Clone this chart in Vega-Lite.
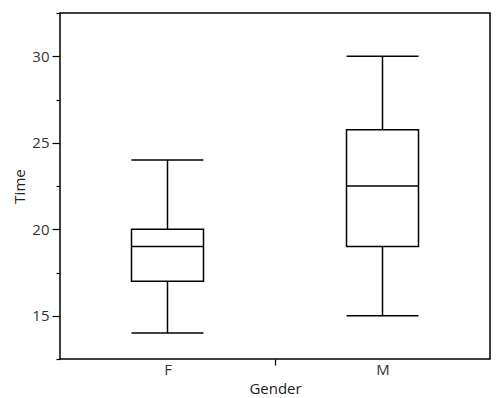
{
  "$schema": "https://vega.github.io/schema/vega-lite/v6.json",
  "width": 430,
  "height": 346,
  "autosize": {"type": "none"},
  "padding": {"left": 60, "top": 13, "right": 14, "bottom": 39},
  "background": "white",
  "config": {
    "view": {"stroke": "#000", "strokeWidth": 1.5},
    "font": "Open Sans",
    "axis": {
      "domain": false,
      "grid": false,
      "tickColor": "#000",
      "tickWidth": 1.2,
      "labelFont": "Open Sans",
      "labelFontSize": 15,
      "labelColor": "#333",
      "titleFont": "Open Sans",
      "titleFontSize": 15,
      "titleFontWeight": "normal",
      "titleColor": "#222"
    }
  },
  "data": {
    "values": [
      {"Gender": "F", "min": 14, "q1": 17, "median": 19, "q3": 20, "max": 24},
      {"Gender": "M", "min": 15, "q1": 19, "median": 22.5, "q3": 25.75, "max": 30}
    ]
  },
  "encoding": {
    "x": {
      "field": "Gender",
      "type": "nominal",
      "scale": {"type": "band", "paddingInner": 0, "paddingOuter": 0},
      "axis": {
        "labelAngle": 0,
        "tickBand": "extent",
        "tickSize": 6,
        "tickOpacity": {"condition": {"test": "datum.value === 'F'", "value": 1}, "value": 0},
        "labelPadding": -3,
        "titlePadding": 4
      }
    }
  },
  "layer": [
    {
      "mark": {"type": "rule", "color": "#000", "strokeWidth": 1.5},
      "encoding": {
        "y": {
          "field": "min",
          "type": "quantitative",
          "title": "Time",
          "scale": {"domain": [12.5, 32.5], "nice": false, "zero": false},
          "axis": {
            "values": [12.5, 15, 17.5, 20, 22.5, 25, 27.5, 30, 32.5],
            "labelExpr": "datum.value % 5 === 0 ? datum.label : ''",
            "tickSize": {"condition": {"test": "datum.value % 5 === 0", "value": 8}, "value": 4},
            "labelPadding": 3,
            "titlePadding": 4
          }
        },
        "y2": {"field": "max"}
      }
    },
    {
      "mark": {"type": "bar", "fill": "white", "stroke": "#000", "strokeWidth": 1.5, "size": 72},
      "encoding": {
        "y": {"field": "q1", "type": "quantitative"},
        "y2": {"field": "q3"}
      }
    },
    {
      "mark": {"type": "tick", "color": "#000", "opacity": 1, "size": 72, "thickness": 1.5},
      "encoding": {"y": {"field": "median", "type": "quantitative"}}
    },
    {
      "mark": {"type": "tick", "color": "#000", "opacity": 1, "size": 72, "thickness": 1.5},
      "encoding": {"y": {"field": "min", "type": "quantitative"}}
    },
    {
      "mark": {"type": "tick", "color": "#000", "opacity": 1, "size": 72, "thickness": 1.5},
      "encoding": {"y": {"field": "max", "type": "quantitative"}}
    }
  ]
}
